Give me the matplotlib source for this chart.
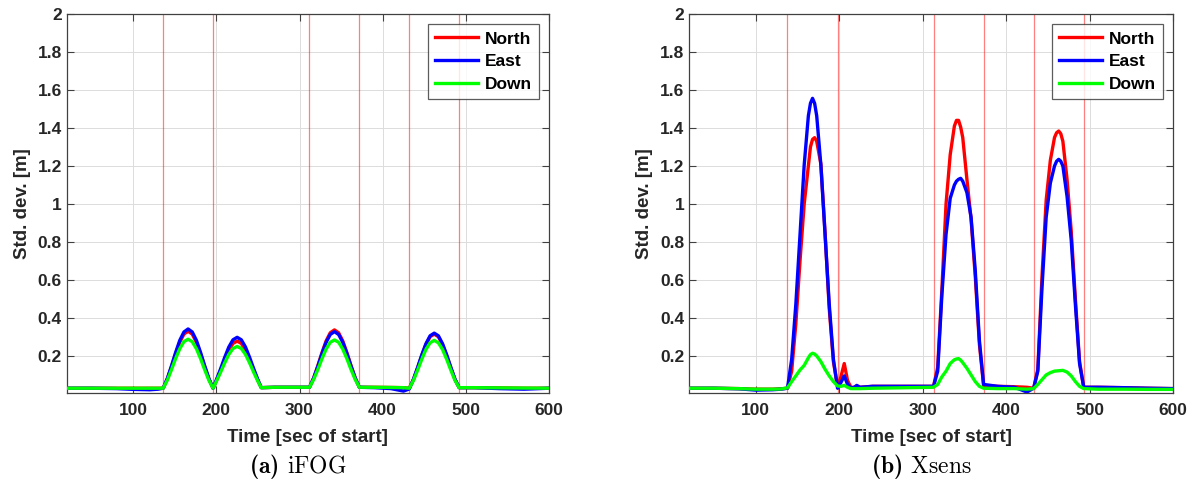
import matplotlib
matplotlib.use("Agg")
import matplotlib.pyplot as plt
from matplotlib.ticker import FuncFormatter

plt.rcParams['font.family'] = ['Liberation Sans', 'DejaVu Sans']
plt.rcParams['font.weight'] = 'bold'
plt.rcParams['mathtext.fontset'] = 'custom'
plt.rcParams['mathtext.rm'] = 'cmr10'
plt.rcParams['mathtext.bf'] = 'cmb10'

# ---- iFOG panel ----
t_ifog = [20, 50, 80, 100, 120, 130,
          136, 141, 146, 151, 156, 161, 166, 171, 176, 181, 186, 191, 196,
          200, 205, 210, 215, 220, 225, 230, 235, 240, 245, 250, 254,
          270, 290,
          312, 317, 322, 327, 332, 337, 342, 347, 352, 357, 362, 367, 372,
          390, 410, 425,
          432, 437, 442, 447, 452, 457, 462, 467, 472, 477, 482, 487, 492,
          510, 540, 570, 600]
north_ifog = [0.03, 0.03, 0.03, 0.03, 0.03, 0.03,
              0.03, 0.079, 0.143, 0.211, 0.272, 0.315, 0.33, 0.315, 0.272, 0.211, 0.143, 0.079, 0.03,
              0.070, 0.123, 0.180, 0.230, 0.266, 0.278, 0.266, 0.230, 0.180, 0.123, 0.070, 0.033,
              0.035, 0.035,
              0.035, 0.084, 0.148, 0.217, 0.279, 0.322, 0.337, 0.322, 0.279, 0.217, 0.148, 0.084, 0.035,
              0.035, 0.034, 0.033,
              0.03, 0.076, 0.137, 0.202, 0.26, 0.301, 0.315, 0.301, 0.26, 0.202, 0.137, 0.076, 0.033,
              0.033, 0.032, 0.03, 0.03]
east_ifog = [0.03, 0.03, 0.028, 0.024, 0.022, 0.025,
             0.03, 0.081, 0.147, 0.218, 0.282, 0.326, 0.342, 0.326, 0.282, 0.218, 0.147, 0.081, 0.03,
             0.074, 0.131, 0.192, 0.247, 0.285, 0.298, 0.285, 0.247, 0.192, 0.131, 0.074, 0.033,
             0.035, 0.035,
             0.035, 0.083, 0.145, 0.212, 0.272, 0.313, 0.328, 0.313, 0.272, 0.212, 0.145, 0.083, 0.035,
             0.033, 0.028, 0.015,
             0.026, 0.077, 0.139, 0.205, 0.264, 0.306, 0.32, 0.306, 0.264, 0.205, 0.139, 0.077, 0.033,
             0.033, 0.028, 0.025, 0.03]
down_ifog = [0.03, 0.03, 0.03, 0.03, 0.03, 0.03,
             0.03, 0.072, 0.127, 0.186, 0.238, 0.275, 0.288, 0.275, 0.238, 0.186, 0.127, 0.072, 0.03,
             0.066, 0.113, 0.163, 0.208, 0.239, 0.25, 0.239, 0.208, 0.163, 0.113, 0.066, 0.033,
             0.035, 0.035,
             0.035, 0.076, 0.128, 0.185, 0.236, 0.272, 0.284, 0.272, 0.236, 0.185, 0.128, 0.076, 0.035,
             0.035, 0.034, 0.033,
             0.03, 0.071, 0.125, 0.182, 0.234, 0.269, 0.282, 0.269, 0.234, 0.182, 0.125, 0.071, 0.033,
             0.033, 0.032, 0.031, 0.03]
events_ifog = [136, 196, 312, 372, 432, 492]

# ---- Xsens panel ----
t_xsens = [20, 50, 80, 100, 120, 130,
           138, 143, 148, 153, 158, 163, 165.5, 168, 170.5, 173, 178, 183, 188, 193, 198,
           202, 206, 210, 214, 218, 221, 225, 240, 270, 300,
           313, 318, 323, 328, 333, 338, 340.5, 343, 345.5, 348, 353, 358, 363, 368, 373,
           390, 410, 425,
           433, 438, 443, 448, 453, 458, 460.5, 463, 465.5, 468, 473, 478, 483, 488, 493,
           510, 540, 570, 600]
north_xsens = [0.03, 0.03, 0.028, 0.025, 0.025, 0.027,
               0.03, 0.12, 0.37, 0.70, 1.0, 1.2, 1.3, 1.34, 1.349, 1.33, 1.21, 0.85, 0.45, 0.17, 0.04,
               0.09, 0.16, 0.07, 0.035, 0.035, 0.035, 0.035, 0.04, 0.04, 0.04,
               0.04, 0.14, 0.55, 1.0, 1.26, 1.41, 1.44, 1.44, 1.405, 1.35, 1.13, 0.92, 0.62, 0.26, 0.045,
               0.04, 0.038, 0.035,
               0.03, 0.13, 0.62, 1.02, 1.23, 1.35, 1.375, 1.384, 1.37, 1.33, 1.13, 0.86, 0.5, 0.17, 0.035,
               0.035, 0.033, 0.03, 0.028]
east_xsens = [0.03, 0.03, 0.027, 0.02, 0.022, 0.025,
              0.03, 0.183, 0.473, 0.839, 1.205, 1.464, 1.53, 1.556, 1.53, 1.464, 1.205, 0.839, 0.473, 0.183, 0.03,
              0.06, 0.095, 0.05, 0.03, 0.035, 0.045, 0.035, 0.04, 0.04, 0.04,
              0.04, 0.12, 0.52, 0.84, 1.03, 1.10, 1.12, 1.13, 1.135, 1.12, 1.06, 0.93, 0.65, 0.28, 0.05,
              0.04, 0.035, 0.01,
              0.03, 0.12, 0.56, 0.93, 1.11, 1.2, 1.225, 1.235, 1.225, 1.2, 1.04, 0.81, 0.47, 0.16, 0.035,
              0.035, 0.033, 0.03, 0.028]
down_xsens = [0.03, 0.03, 0.028, 0.025, 0.025, 0.026,
              0.032, 0.065, 0.095, 0.126, 0.15, 0.19, 0.207, 0.214, 0.21, 0.2, 0.17, 0.13, 0.095, 0.065, 0.042,
              0.04, 0.045, 0.035, 0.028, 0.028, 0.028, 0.028, 0.03, 0.032, 0.034,
              0.035, 0.05, 0.09, 0.12, 0.16, 0.18, 0.184, 0.186, 0.178, 0.165, 0.135, 0.1, 0.065, 0.04, 0.03,
              0.028, 0.028, 0.025,
              0.028, 0.05, 0.075, 0.1, 0.112, 0.12, 0.121, 0.122, 0.123, 0.124, 0.115, 0.095, 0.065, 0.04, 0.028,
              0.025, 0.025, 0.024, 0.024]
events_xsens = [137, 198, 313, 373, 433, 493]

x_ticks = [100, 200, 300, 400, 500, 600]
y_ticks = [0.2, 0.4, 0.6, 0.8, 1.0, 1.2, 1.4, 1.6, 1.8, 2.0]

panels = [
    (t_ifog, north_ifog, east_ifog, down_ifog, events_ifog, r"$\mathbf{(a)}\ \mathrm{iFOG}$"),
    (t_xsens, north_xsens, east_xsens, down_xsens, events_xsens, r"$\mathbf{(b)}\ \mathrm{Xsens}$"),
]
axes_pos = [[0.0558, 0.1914, 0.4036, 0.7798], [0.5766, 0.1914, 0.4050, 0.7798]]

fig = plt.figure(figsize=(11.95, 4.86), dpi=100)
edge = '#404040'
for pos, (t, n, e, d, ev, cap) in zip(axes_pos, panels):
    ax = fig.add_axes(pos)
    for x in ev:
        ax.axvline(x, color='red', lw=0.9, alpha=0.5, zorder=1)
    ax.plot(t, n, color=(1, 0, 0), lw=2.4, label='North', zorder=3)
    ax.plot(t, e, color=(0, 0, 1), lw=2.4, label='East', zorder=4)
    ax.plot(t, d, color=(0, 1, 0), lw=2.4, label='Down', zorder=5)
    ax.set_xlim(20, 600)
    ax.set_ylim(0.005, 2)
    ax.set_xticks(x_ticks)
    ax.set_yticks(y_ticks)
    ax.yaxis.set_major_formatter(FuncFormatter(lambda v, p: '%g' % v))
    ax.grid(True, color='#dcdcdc', lw=0.7, zorder=0)
    ax.set_axisbelow(True)
    ax.tick_params(direction='in', top=True, right=True, length=5, width=0.8,
                   color=edge, labelsize=12.5, labelcolor='#262626')
    ax.tick_params(axis='x', pad=7)
    for lab in ax.get_xticklabels() + ax.get_yticklabels():
        lab.set_fontweight('bold')
    for s in ax.spines.values():
        s.set_color(edge)
        s.set_linewidth(0.9)
    ax.set_xlabel('Time [sec of start]', fontsize=13.5, fontweight='bold', color='#262626', labelpad=8)
    ax.set_ylabel('Std. dev. [m]', fontsize=13.5, fontweight='bold', color='#262626', labelpad=5)
    leg = ax.legend(loc='upper right', fontsize=12.5, frameon=True, fancybox=False,
                    handlelength=2.5, handletextpad=0.35, borderpad=0.4, labelspacing=0.45,
                    borderaxespad=0.6)
    leg.get_frame().set_edgecolor('#333333')
    leg.get_frame().set_linewidth(0.9)
    for txt in leg.get_texts():
        txt.set_fontweight('bold')
    cx = pos[0] + pos[2] / 2 - 0.008
    fig.text(cx, 0.04, cap, ha='center', va='center', fontsize=17)

fig.savefig('out.png', dpi=100)
